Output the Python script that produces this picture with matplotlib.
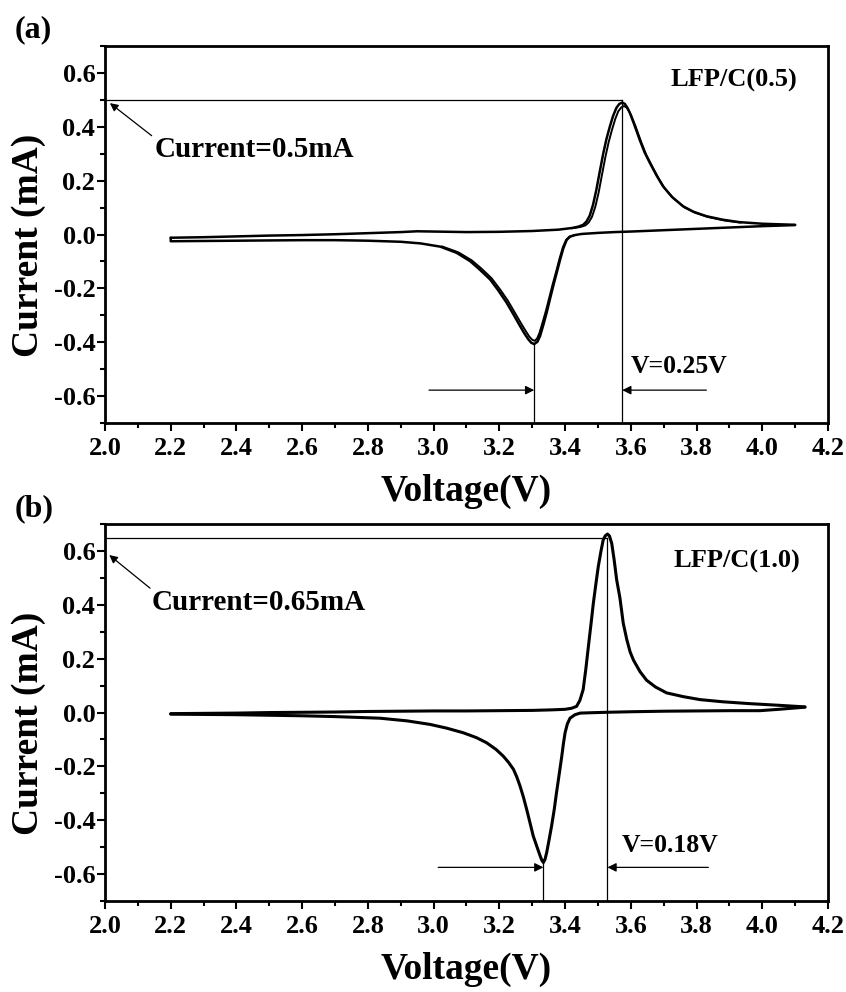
import numpy as np
import matplotlib
matplotlib.use('Agg')
import matplotlib.pyplot as plt
from matplotlib.ticker import MultipleLocator

plt.rcParams['font.family'] = ['Liberation Serif', 'DejaVu Serif']
plt.rcParams['font.weight'] = 'bold'

# panel (a) LFP/C(0.5): anodic (charge) branch, cycle 1
a_up_v = [2.2, 2.3, 2.4, 2.5, 2.6, 2.7, 2.8, 2.9, 2.95, 3.0, 3.1, 3.2, 3.3, 3.38, 3.42, 3.44,
          3.455, 3.465, 3.475, 3.485, 3.495, 3.505, 3.516, 3.526, 3.536, 3.546, 3.556, 3.565,
          3.574, 3.582, 3.59, 3.597, 3.61, 3.627, 3.642, 3.658, 3.678, 3.698, 3.725, 3.759,
          3.79, 3.83, 3.88, 3.93, 4.0, 4.05, 4.1]
a_up_i = [-0.012, -0.010, -0.007, -0.004, -0.002, 0.001, 0.005, 0.009, 0.012, 0.011, 0.009, 0.010,
          0.013, 0.018, 0.024, 0.029, 0.036, 0.048, 0.07, 0.11, 0.165, 0.23, 0.30, 0.355, 0.40, 0.44,
          0.47, 0.485, 0.49, 0.485, 0.47, 0.452, 0.41, 0.352, 0.305, 0.266, 0.22, 0.179, 0.14, 0.105,
          0.085, 0.068, 0.055, 0.046, 0.040, 0.038, 0.036]
# cathodic (discharge) branch, cycle 1
a_dn_v = [4.1, 4.0, 3.9, 3.8, 3.7, 3.6, 3.55, 3.5, 3.45, 3.43, 3.415, 3.405, 3.395, 3.385, 3.375,
          3.364, 3.354, 3.344, 3.334, 3.324, 3.316, 3.306, 3.297, 3.288, 3.276, 3.263, 3.243, 3.222,
          3.197, 3.172, 3.14, 3.111, 3.07, 3.02, 2.96, 2.9, 2.8, 2.7, 2.6, 2.5, 2.4, 2.3, 2.2, 2.2]
a_dn_i = [0.035, 0.031, 0.026, 0.021, 0.016, 0.011, 0.009, 0.006, 0.002, -0.002, -0.008, -0.02, -0.05,
          -0.093, -0.14, -0.191, -0.24, -0.29, -0.335, -0.377, -0.398, -0.407, -0.402, -0.389, -0.367,
          -0.34, -0.297, -0.253, -0.208, -0.167, -0.13, -0.099, -0.068, -0.045, -0.033, -0.027, -0.023,
          -0.021, -0.021, -0.022, -0.023, -0.024, -0.025, -0.012]
# later cycles, peak regions only
a_up2_v = [3.42, 3.447, 3.462, 3.472, 3.482, 3.492, 3.502, 3.512, 3.523, 3.533, 3.543, 3.553, 3.562,
           3.571, 3.579, 3.587, 3.595, 3.602, 3.615, 3.632, 3.647, 3.663, 3.683, 3.703, 3.73, 3.764,
           3.795, 3.835, 3.885, 3.935]
a_up2_i = [0.023, 0.028, 0.034, 0.045, 0.066, 0.103, 0.155, 0.22, 0.29, 0.345, 0.39, 0.43, 0.458,
           0.472, 0.477, 0.472, 0.457, 0.44, 0.40, 0.342, 0.296, 0.258, 0.212, 0.172, 0.134, 0.100,
           0.081, 0.065, 0.052, 0.044]
a_dn2_v = [3.43, 3.413, 3.403, 3.393, 3.383, 3.373, 3.362, 3.352, 3.342, 3.332, 3.322, 3.315, 3.308,
           3.3, 3.291, 3.28, 3.267, 3.247, 3.226, 3.201, 3.176, 3.145, 3.116, 3.075, 3.025]
a_dn2_i = [-0.002, -0.008, -0.02, -0.048, -0.09, -0.137, -0.186, -0.234, -0.282, -0.325, -0.366,
           -0.386, -0.395, -0.391, -0.379, -0.358, -0.332, -0.29, -0.246, -0.202, -0.162, -0.126,
           -0.096, -0.066, -0.044]

# panel (b) LFP/C(1.0)
b_up_v = [2.2, 2.3, 2.4, 2.5, 2.6, 2.7, 2.8, 2.9, 3.0, 3.1, 3.2, 3.3, 3.36, 3.4, 3.42, 3.435, 3.445,
          3.455, 3.463, 3.471, 3.479, 3.486, 3.494, 3.501, 3.509, 3.516, 3.522, 3.529, 3.535, 3.542,
          3.549, 3.557, 3.567, 3.577, 3.588, 3.598, 3.608, 3.628, 3.648, 3.675, 3.709, 3.76, 3.811,
          3.88, 3.963, 4.05, 4.13]
b_up_i = [-0.004, -0.003, -0.002, 0.0, 0.001, 0.002, 0.004, 0.005, 0.006, 0.006, 0.007, 0.008, 0.010,
          0.012, 0.016, 0.023, 0.045, 0.085, 0.16, 0.246, 0.33, 0.406, 0.48, 0.542, 0.598, 0.641,
          0.656, 0.663, 0.656, 0.628, 0.57, 0.493, 0.425, 0.332, 0.27, 0.225, 0.195, 0.152, 0.12,
          0.095, 0.073, 0.059, 0.048, 0.04, 0.033, 0.027, 0.021]
b_dn_v = [4.13, 4.05, 3.993, 3.9, 3.8, 3.7, 3.6, 3.527, 3.47, 3.446, 3.43, 3.415, 3.407, 3.40, 3.395,
          3.39, 3.382, 3.374, 3.367, 3.359, 3.351, 3.344, 3.339, 3.334, 3.329, 3.324, 3.314, 3.303,
          3.293, 3.283, 3.273, 3.263, 3.253, 3.243, 3.228, 3.212, 3.19, 3.161, 3.13, 3.09, 3.04, 2.989,
          2.92, 2.837, 2.7, 2.6, 2.5, 2.4, 2.3, 2.2]
b_dn_i = [0.02, 0.012, 0.007, 0.007, 0.006, 0.005, 0.003, 0.001, -0.001, -0.002, -0.008, -0.021,
          -0.042, -0.075, -0.115, -0.162, -0.23, -0.297, -0.36, -0.421, -0.475, -0.52, -0.545, -0.557,
          -0.548, -0.532, -0.497, -0.458, -0.408, -0.359, -0.313, -0.273, -0.239, -0.211, -0.185,
          -0.162, -0.137, -0.112, -0.093, -0.075, -0.058, -0.044, -0.031, -0.021, -0.015, -0.012,
          -0.010, -0.008, -0.007, -0.006]

sample_a = "LFP/C(0.5)"
sample_b = "LFP/C(1.0)"
peak_current_a = 0.5
peak_current_b = 0.65
dv_a = "V=0.25V"
dv_b = "V=0.18V"

x_ticks = [2.0, 2.2, 2.4, 2.6, 2.8, 3.0, 3.2, 3.4, 3.6, 3.8, 4.0, 4.2]
y_ticks = [-0.6, -0.4, -0.2, 0.0, 0.2, 0.4, 0.6]

fig = plt.figure(figsize=(8.46, 9.92), dpi=100)
ax_a = fig.add_axes([0.1241, 0.5736, 0.8546, 0.3800])
ax_b = fig.add_axes([0.1241, 0.0917, 0.8546, 0.3800])


def style_axis(ax):
    ax.set_xlim(2.0, 4.2)
    ax.set_ylim(-0.7, 0.7)
    ax.set_xticks(x_ticks)
    ax.set_yticks(y_ticks)
    ax.xaxis.set_minor_locator(MultipleLocator(0.1))
    ax.yaxis.set_minor_locator(MultipleLocator(0.1))
    ax.set_xticklabels(["%.1f" % t for t in x_ticks])
    ax.set_yticklabels(["%.1f" % t for t in y_ticks])
    ax.tick_params(which='both', direction='out', top=False, right=False, width=1.5)
    ax.tick_params(which='major', length=6, labelsize=19)
    ax.tick_params(which='minor', length=3.5)
    ax.tick_params(axis='x', pad=4)
    ax.tick_params(axis='y', pad=1)
    for s in ax.spines.values():
        s.set_linewidth(2)
    ax.set_xlabel("Voltage(V)", fontsize=27, fontweight='bold')
    ax.set_ylabel("Current (mA)", fontsize=27, fontweight='bold')
    ax.xaxis.set_label_coords(0.5, -0.135)
    ax.yaxis.set_label_coords(-0.082, 0.47)


def marks(ax, up_v, up_i, dn_v, dn_i, i_line, arrow_y, left_tail, right_tail):
    k_up = int(np.argmax(up_i))
    k_dn = int(np.argmin(dn_i))
    vp = up_v[k_up]
    vn = dn_v[k_dn]
    ax.plot([2.0, vp], [i_line, i_line], color='k', lw=0.9)
    ax.plot([vp, vp], [i_line, -0.7], color='k', lw=0.9)
    ax.plot([vn, vn], [dn_i[k_dn], -0.7], color='k', lw=0.9)
    ap = dict(arrowstyle='-|>', color='k', lw=0.9, mutation_scale=13, shrinkA=0, shrinkB=0)
    ax.annotate('', xy=(vn, arrow_y), xytext=(left_tail, arrow_y), arrowprops=ap)
    ax.annotate('', xy=(vp, arrow_y), xytext=(right_tail, arrow_y), arrowprops=ap)


curve = dict(color='k', solid_joinstyle='round', solid_capstyle='round')

# ---- panel (a)
style_axis(ax_a)
ax_a.plot(a_up_v, a_up_i, lw=1.8, **curve)
ax_a.plot(a_dn_v, a_dn_i, lw=1.8, **curve)
ax_a.plot(a_up2_v, a_up2_i, lw=1.4, **curve)
ax_a.plot(a_dn2_v, a_dn2_i, lw=1.4, **curve)
marks(ax_a, a_up_v, a_up_i, a_dn_v, a_dn_i, peak_current_a, -0.578, 2.986, 3.83)
ax_a.annotate('', xy=(2.015, 0.488), xytext=(2.142, 0.367),
              arrowprops=dict(arrowstyle='-|>', color='k', lw=0.9, mutation_scale=12, shrinkA=0, shrinkB=0))
ax_a.text(2.15, 0.315, "Current=0.5mA", fontsize=21, fontweight='bold', ha='left', va='center')
ax_a.text(3.915, 0.574, sample_a, fontsize=19, fontweight='bold', ha='center', va='center')
ax_a.text(3.60, -0.49, dv_a, fontsize=18.5, fontweight='bold', ha='left', va='center')

# ---- panel (b)
style_axis(ax_b)
ax_b.plot(b_up_v, b_up_i, lw=2.2, **curve)
ax_b.plot(b_dn_v, b_dn_i, lw=2.2, **curve)
marks(ax_b, b_up_v, b_up_i, b_dn_v, b_dn_i, peak_current_b, -0.575, 3.014, 3.836)
ax_b.annotate('', xy=(2.013, 0.585), xytext=(2.137, 0.462),
              arrowprops=dict(arrowstyle='-|>', color='k', lw=0.9, mutation_scale=12, shrinkA=0, shrinkB=0))
ax_b.text(2.142, 0.409, "Current=0.65mA", fontsize=21, fontweight='bold', ha='left', va='center')
ax_b.text(3.922, 0.56, sample_b, fontsize=19, fontweight='bold', ha='center', va='center')
ax_b.text(3.572, -0.495, dv_b, fontsize=18.5, fontweight='bold', ha='left', va='center')

fig.text(0.0177, 0.970, "(a)", fontsize=23, fontweight='bold', ha='left', va='center')
fig.text(0.0177, 0.487, "(b)", fontsize=23, fontweight='bold', ha='left', va='center')

fig.savefig("out.png", dpi=100)
